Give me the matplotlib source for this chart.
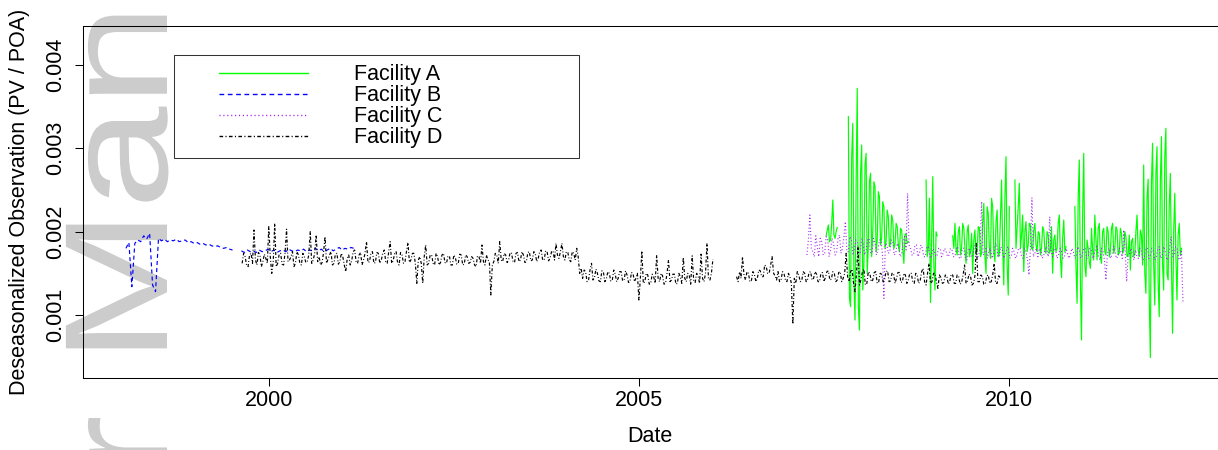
import numpy as np
import matplotlib
matplotlib.use("Agg")
import matplotlib.pyplot as plt
from matplotlib.legend_handler import HandlerLine2D
from matplotlib.lines import Line2D
from matplotlib.textpath import TextPath
from matplotlib.patches import PathPatch
from matplotlib.font_manager import FontProperties
from matplotlib.transforms import Affine2D

nan = np.nan

# Deseasonalized PV/POA, in units of 1e-3.
# Each series is regularly sampled from a start year with a fixed step; the
# "_half" lists hold the readings that fall half a step later. NaN = data gap.
fac_a_start, fac_a_step = 2007.53, 0.03
fac_a = [
    1.95, 2.08, 1.90, 2.38, 1.92, 2.05, nan, nan, nan, nan,
    3.38, 1.10, 3.30, 0.94, 3.72, 0.82, 3.04, 1.60, 2.94, 1.82,
    2.70, 2.00, 2.54, 1.90, 2.42, 1.92, 2.30, 1.88, 2.18, 1.86,
    2.14, 1.84, 2.06, 1.76, 2.02, 1.62, 1.98, 1.88, nan, nan,
    nan, nan, nan, nan, nan, 2.62, 1.80, 1.15, 2.66, 1.30,
    1.95, nan, nan, nan, nan, nan, nan, 1.95, 2.10, 1.72,
    2.06, 1.80, 2.04, 1.62, 2.08, 1.76, 1.50, 2.02, 1.78, 2.05,
    1.74, 2.34, 1.50, 2.22, 1.68, 2.30, 1.64, 2.26, 1.74, 2.62,
    1.36, 2.90, 1.24, nan, nan, 2.62, 2.04, 2.58, 1.96, 1.52,
    2.12, 1.84, 2.08, 1.78, 2.10, 1.76, 1.98, 1.80, 2.02, 1.74,
    1.96, 1.78, 1.50, 1.96, 1.80, 2.20, 1.45, 2.14, 1.82, nan,
    nan, nan, 2.30, 1.14, 2.86, 0.70, 2.94, 1.46, 1.80, 1.56,
    1.78, 2.20, 1.66, 2.10, 1.62, 2.04, 1.72, 2.00, 1.76, 2.10,
    1.80, 2.02, 1.74, 1.98, 1.78, 1.94, 1.72, 1.54, 1.92, 1.74,
    2.20, 1.70, 1.96, 2.80, 1.26, 2.63, 0.49, 3.06, 1.12, 3.02,
    0.98, 3.14, 1.30, 3.24, 1.42, 2.70, 0.78, 2.46, 1.18, 2.10, 1.80,
]
fac_a_half = [
    2.02, 1.88, 2.10, 1.96, 2.00, nan, nan, nan, nan, nan,
    1.20, 2.90, 1.40, 2.60, 1.10, 2.70, 1.30, 2.80, 1.50, 2.60,
    1.70, 2.60, 1.76, 2.48, 1.84, 2.36, 1.80, 2.26, 1.82, 2.20,
    1.80, 2.10, 1.84, 2.04, 1.80, 1.96, 1.86, nan, nan, nan,
    nan, nan, nan, nan, nan, 1.70, 2.40, 1.90, 1.60, 2.00,
    nan, nan, nan, nan, nan, nan, nan, 1.80, 1.78, 2.00,
    1.72, 2.10, 1.80, 2.00, 1.70, 1.98, 1.90, 1.72, 2.06, 1.70,
    2.10, 1.70, 2.30, 1.80, 2.40, 1.76, 2.12, 1.70, 2.20, 1.80,
    2.40, 1.60, 2.30, nan, nan, 1.80, 2.30, 1.80, 2.20, 2.00,
    1.76, 2.10, 1.80, 2.02, 1.84, 2.00, 1.72, 2.06, 1.78, 2.00,
    1.74, 2.06, 1.90, 1.76, 2.10, 1.70, 1.92, 1.76, nan, nan,
    nan, nan, 1.60, 2.40, 1.40, 2.20, 1.60, 1.90, 1.64, 2.04,
    1.66, 1.90, 2.04, 1.70, 2.00, 1.76, 2.06, 1.70, 2.04, 1.74,
    2.06, 1.72, 2.04, 1.74, 2.00, 1.70, 1.96, 1.88, 1.70, 2.00,
    1.78, 2.02, 1.60, 1.50, 2.40, 1.20, 2.60, 1.60, 2.70, 1.40,
    2.60, 1.60, 2.90, 1.50, 2.30, 1.60, 2.00, 1.70, 1.96, 1.72, nan,
]

fac_b_start, fac_b_step = 1998.07, 0.04
fac_b = [
    1.80, 1.87, 1.34, 1.86, 1.90, 1.88, 1.95, 1.91, 1.98, 1.36,
    1.28, 1.92, 1.89, 1.91, 1.88, 1.90, 1.89, 1.91, 1.88, 1.89,
    1.90, 1.87, 1.88, 1.86, 1.87, 1.85, 1.86, 1.84, 1.85, 1.83,
    1.82, 1.83, 1.81, 1.80, 1.81, 1.79, 1.78, nan, nan,
    1.77, 1.75, 1.78, 1.76, 1.77, 1.75, 1.78, 1.76, 1.77, 1.79,
    1.76, 1.78, 1.75, 1.77, 1.78, 1.76, 1.79, 1.77, 1.76, 1.78,
    1.77, 1.79, 1.76, 1.78, 1.77, 1.80, 1.77, 1.79, 1.76, 1.78,
    1.80, 1.77, 1.79, 1.81, 1.78, 1.80, 1.79, 1.81, 1.80,
]

fac_c_start, fac_c_step = 2007.27, 0.04
fac_c = [
    1.72, 2.20, 1.76, 1.95, 1.70, 1.88, 1.74, 1.92, 1.78, 1.86,
    1.74, 1.96, 1.80, 2.12, 1.76, 1.92, 1.78, 1.88, 1.74, 1.86,
    1.78, 1.92, 1.75, 1.86, 1.78, 1.90, 1.20, 1.84, 1.76, 1.88,
    1.74, 1.82, 1.72, 1.94, 2.46, 1.80, 1.72, 1.84, 1.74, 1.80,
    1.70, 1.82, 1.68, 1.78, 1.72, 1.80, 1.74, 1.77, 1.72, 1.78,
    1.70, 1.82, 1.68, 1.80, 1.66, 1.78, 1.70, 1.84, 1.72, 2.36,
    1.74, 1.68, 1.80, 1.72, 1.86, 1.70, 1.78, 1.72, 1.82, 1.70,
    1.76, 1.72, 1.80, 1.68, 1.76, 1.48, 2.41, 1.74, 1.70, 1.78,
    1.72, 1.82, 2.18, 1.70, 1.78, 1.72, 1.76, 1.70, 1.74, 1.72,
    1.76, 1.70, 1.78, 1.72, 1.80, 1.70, 1.78, 1.72, 1.84, 1.66,
    1.76, 1.42, 1.80, 1.72, 1.78, 1.70, 1.76, 2.02, 1.40, 1.74,
    1.70, 1.78, 1.68, 1.76, 1.70, 1.80, 1.72, 1.76, 1.70, 1.82,
    1.72, 1.78, 1.68, 1.94, 1.72, 1.80, 1.66, 1.16,
]
fac_c_half = [
    1.90, 1.80, 1.70, 1.82, 1.92, 1.72, 1.94, 1.70, 1.92, 1.72,
    1.92, 1.74, 1.94, 1.76, 1.94, 1.72, 1.90, 1.74, 1.92, 1.72,
    1.90, 1.74, 1.92, 1.72, 1.90, 1.74, 1.86, 1.74, 1.90, 1.72,
    1.86, 1.70, 1.88, 1.78, 1.84, 1.72, 1.84, 1.70, 1.84, 1.70,
    1.82, 1.70, 1.80, 1.70, 1.80, 1.70, 1.80, 1.70, 1.80, 1.70,
    1.80, 1.68, 1.80, 1.68, 1.80, 1.70, 1.82, 1.68, 1.80, 1.72,
    1.80, 1.78, 1.68, 1.82, 1.70, 1.82, 1.68, 1.80, 1.68, 1.80,
    1.68, 1.80, 1.70, 1.80, 1.66, 1.80, 1.70, 1.80, 1.80, 1.68,
    1.80, 1.70, 1.76, 1.80, 1.68, 1.80, 1.68, 1.80, 1.68, 1.80,
    1.68, 1.82, 1.68, 1.80, 1.68, 1.80, 1.68, 1.80, 1.70, 1.80,
    1.66, 1.74, 1.68, 1.82, 1.68, 1.80, 1.68, 1.76, 1.72, 1.80,
    1.66, 1.70, 1.80, 1.66, 1.80, 1.68, 1.80, 1.66, 1.80, 1.68,
    1.82, 1.66, 1.80, 1.70, 1.82, 1.68, 1.78, nan,
]

fac_d_start, fac_d_step = 1999.64, 0.04
fac_d = [
    1.62, 1.70, 1.58, 1.74, 2.02, 1.60, 1.72, 1.64, 1.68,
    2.06, 1.50, 2.10,
    1.62, 1.74, 1.60, 2.03, 1.66, 1.76, 1.62, 1.72, 1.60, 1.70,
    1.64, 2.00, 1.66, 1.96, 1.70, 1.63, 1.94, 1.67, 1.76, 1.62,
    1.74, 1.64, 1.70, 1.52, 1.72, 1.65, 1.78, 1.62, 1.75, 1.66,
    1.88, 1.64, 1.76, 1.63, 1.74, 1.66, 1.78, 1.62, 1.88, 1.65,
    1.76, 1.60, 1.72, 1.64, 1.87, 1.66, 1.74, 1.38, 1.70, 1.38,
    1.84, 1.62, 1.72, 1.60, 1.70, 1.63, 1.74, 1.62, 1.71, 1.60,
    1.69, 1.62, 1.72, 1.61, 1.70, 1.63, 1.68, 1.58, 1.70, 1.84,
    1.60, 1.66, 1.24, 1.64, 1.72, 1.88, 1.64, 1.72, 1.66, 1.74,
    1.63, 1.75, 1.66, 1.72, 1.64, 1.76, 1.66, 1.74, 1.68, 1.78,
    1.66, 1.76, 1.68, 1.77, 1.86, 1.68, 1.86, 1.66, 1.75, 1.64,
    1.74, 1.80, 1.50, 1.44, 1.52, 1.42, 1.62, 1.45, 1.50, 1.40,
    1.52, 1.43, 1.50, 1.41, 1.49, 1.44, 1.52, 1.42, 1.48, 1.40,
    1.50, 1.44, 1.18, 1.77, 1.40, 1.48, 1.38, 1.46, 1.72, 1.40,
    1.47, 1.38, 1.66, 1.42, 1.49, 1.38, 1.46, 1.69, 1.40, 1.48,
    1.71, 1.39, 1.47, 1.73, 1.40, 1.86, 1.42, 1.67,
    nan, nan, nan, nan, nan, nan, nan,
    1.46, 1.52, 1.70, 1.42, 1.50, 1.41, 1.49, 1.44, 1.53, 1.46,
    1.58, 1.50, 1.70, 1.47, 1.52, 1.42, 1.50, 1.40, 1.46, 0.89,
    1.38, 1.48, 1.41, 1.50, 1.43, 1.52, 1.44, 1.49, 1.40, 1.51,
    1.45, 1.53, 1.43, 1.50, 1.42, 1.52, 1.44, 1.74, 1.40, 1.55,
    1.28, 1.82, 1.42, 1.55, 1.38, 1.50, 1.42, 1.52, 1.40, 1.49,
    1.43, 1.53, 1.41, 1.50, 1.44, 1.51, 1.40, 1.48, 1.42, 1.50,
    1.38, 1.47, 1.41, 1.56, 1.36, 1.62, 1.40, 1.50, 1.32, 1.45,
    1.39, 1.47, 1.40, 1.48, 1.38, 1.46, 1.39, 1.60, 1.41, 1.47,
    1.38, 1.86, 1.40, 1.46, 1.37, 1.48, 1.40, 1.62, 1.38, 1.45,
]
fac_d_half = [
    1.74, 1.60, 1.72, 1.62, 1.66, 1.75, 1.58, 1.73, 1.62, 1.70, 1.64, 1.58,
    1.73, 1.61, 1.75, 1.64, 1.70, 1.58, 1.76, 1.62, 1.74, 1.63,
    1.72, 1.62, 1.74, 1.64, 1.60, 1.75, 1.62, 1.72, 1.60, 1.73,
    1.61, 1.74, 1.60, 1.68, 1.60, 1.76, 1.64, 1.72, 1.60, 1.74,
    1.63, 1.74, 1.62, 1.75, 1.62, 1.74, 1.64, 1.76, 1.62, 1.74,
    1.63, 1.75, 1.62, 1.76, 1.63, 1.74, 1.62, 1.66, 1.62, 1.70,
    1.60, 1.72, 1.62, 1.74, 1.60, 1.72, 1.63, 1.70, 1.60, 1.72,
    1.61, 1.73, 1.60, 1.72, 1.62, 1.70, 1.60, 1.71, 1.62, 1.64,
    1.72, 1.64, 1.60, 1.74, 1.62, 1.66, 1.74, 1.63, 1.75, 1.64,
    1.74, 1.64, 1.76, 1.63, 1.75, 1.65, 1.76, 1.64, 1.76, 1.66,
    1.77, 1.65, 1.76, 1.66, 1.72, 1.76, 1.70, 1.76, 1.66, 1.76,
    1.66, 1.70, 1.56, 1.54, 1.40, 1.54, 1.42, 1.55, 1.41, 1.53,
    1.40, 1.52, 1.41, 1.54, 1.40, 1.52, 1.41, 1.53, 1.39, 1.51,
    1.40, 1.50, 1.44, 1.38, 1.50, 1.37, 1.49, 1.38, 1.44, 1.50,
    1.37, 1.50, 1.40, 1.49, 1.37, 1.50, 1.38, 1.44, 1.50, 1.37,
    1.42, 1.50, 1.38, 1.44, 1.50, 1.44, 1.50, nan,
    nan, nan, nan, nan, nan, nan, nan,
    1.40, 1.44, 1.48, 1.52, 1.40, 1.52, 1.40, 1.54, 1.46, 1.60,
    1.50, 1.60, 1.50, 1.42, 1.40, 1.52, 1.42, 1.50, 1.38, 1.44,
    1.52, 1.40, 1.52, 1.40, 1.51, 1.42, 1.52, 1.40, 1.50, 1.40,
    1.52, 1.42, 1.52, 1.40, 1.51, 1.40, 1.50, 1.46, 1.52, 1.38,
    1.50, 1.36, 1.52, 1.36, 1.52, 1.40, 1.51, 1.38, 1.50, 1.40,
    1.52, 1.40, 1.50, 1.38, 1.51, 1.39, 1.50, 1.38, 1.50, 1.40,
    1.50, 1.38, 1.52, 1.40, 1.50, 1.38, 1.50, 1.40, 1.48, 1.38,
    1.48, 1.37, 1.49, 1.38, 1.48, 1.37, 1.48, 1.38, 1.49, 1.36,
    1.47, 1.40, 1.48, 1.37, 1.47, 1.38, 1.48, 1.38, 1.47, nan,
]

labels = ["Facility A", "Facility B", "Facility C", "Facility D"]
year_ticks = [2000, 2005, 2010]
y_ticks = [0.001, 0.002, 0.003, 0.004]


def as_xy(start, step, vals, half=None):
    v = np.asarray(vals, dtype=float)
    x = start + step * np.arange(len(v))
    if half is not None:
        # interleave the half-step readings between the main ones
        x = np.column_stack([x, x + step / 2]).ravel()
        v = np.column_stack([v, np.asarray(half, dtype=float)]).ravel()
    return x, v * 1e-3


plt.rcParams["font.family"] = ["Liberation Sans", "DejaVu Sans"]
W, H = 1218, 450
fig = plt.figure(figsize=(W / 100, H / 100), dpi=100)

# faint, stretched "Author Manuscript" watermark running up the left edge
wm = TextPath((0, 0), "Author Manuscript", size=1, prop=FontProperties(family="Liberation Sans"))
wm_tf = Affine2D().scale(185, 147).rotate_deg(90).translate(167, H - 960)
fig.add_artist(PathPatch(wm, transform=wm_tf, facecolor="#cccccc", edgecolor="none", zorder=-5))

# plot region; the right edge of the frame falls just outside the image
ax = fig.add_axes([83 / W, 1 - 378 / H, (1224 - 83) / W, (378 - 26) / H])
ax.set_facecolor("none")

lw = 0.85
styles = [
    dict(color="#00ff00", linestyle="-"),
    dict(color="#0000ff", linestyle=(0, (3.4, 2.6))),
    dict(color="#a020f0", linestyle=(0, (0.8, 2.0))),
    dict(color="black", linestyle=(0, (2.6, 1.7, 0.8, 1.7))),
]
series = [
    as_xy(fac_a_start, fac_a_step, fac_a, fac_a_half),
    as_xy(fac_b_start, fac_b_step, fac_b),
    as_xy(fac_c_start, fac_c_step, fac_c, fac_c_half),
    as_xy(fac_d_start, fac_d_step, fac_d, fac_d_half),
]
handles = []
for (x, y), st, lab in zip(series, styles, labels):
    (ln,) = ax.plot(x, y, lw=lw, label=lab, **st)
    handles.append(ln)

ax.set_xlim(1997.49, 2012.905)
ax.set_ylim(0.000244, 0.004468)
ax.set_xticks(year_ticks)
ax.set_xticklabels([str(t) for t in year_ticks])
ax.set_yticks(y_ticks)
ax.set_yticklabels([f"{t:.3f}" for t in y_ticks], rotation=90, va="center")
ax.tick_params(direction="out", length=5.8, width=0.75, labelsize=15.5, colors="black")
ax.tick_params(axis="x", pad=3)
ax.tick_params(axis="y", pad=6)
for sp in ax.spines.values():
    sp.set_linewidth(0.75)
    sp.set_color("black")

fig.text(20 / W, 1 - 202 / H, "Deseasonalized Observation (PV / POA)", rotation=90,
         ha="center", va="center", fontsize=15.5)
fig.text(650 / W, 1 - 437 / H, "Date", ha="center", va="center", fontsize=15.5)

leg = ax.legend(
    handles=handles, labels=labels, loc="upper left",
    bbox_to_anchor=((174 - 83) / 1141, 0.5, (579 - 174) / 1141, (378 - 55) / 352 - 0.5),
    mode="expand", borderaxespad=0, fontsize=15.5, borderpad=0.44,
    labelspacing=0.0, handlelength=5.79, handletextpad=2.14,
    handler_map={Line2D: HandlerLine2D(xpad=1.65)},
    fancybox=False, framealpha=1, edgecolor="#333333",
)
leg.get_frame().set_linewidth(0.75)
for h in leg.get_lines():
    h.set_linewidth(1.0)

fig.savefig("out.png", dpi=100)
